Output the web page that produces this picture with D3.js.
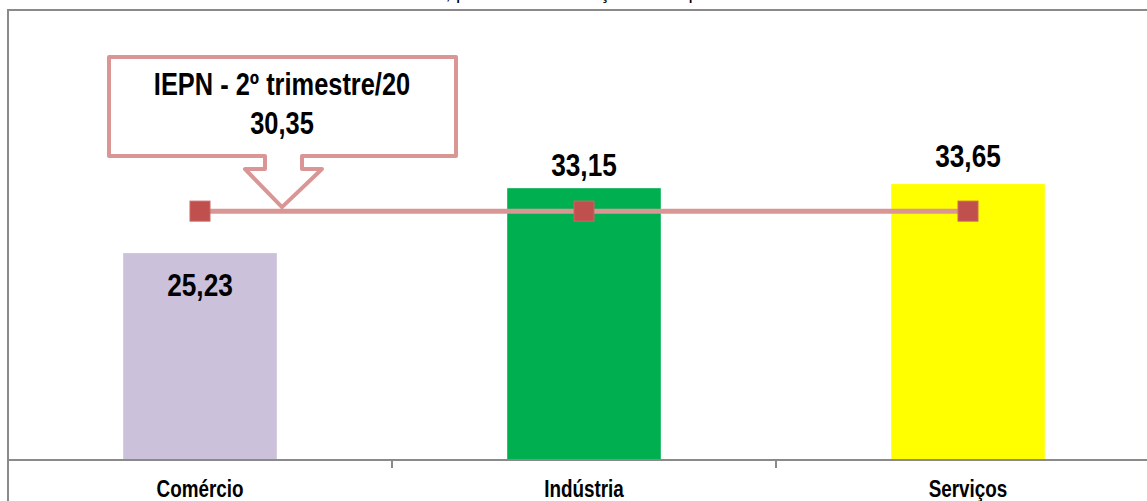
<!DOCTYPE html>
<html>
<head>
<meta charset="utf-8">
<script src="https://cdn.jsdelivr.net/npm/d3@7"></script>
<style>
  html, body { margin: 0; padding: 0; background: #fff; overflow: hidden; width: 1147px; height: 501px; }
  svg { display: block; overflow: hidden; }
  .narrow { font-family: 'Liberation Sans', Arial, sans-serif; font-weight: bold; }
</style>
</head>
<body>
<svg id="chart" width="1147" height="501"></svg>
<script>
// ---- data ----
const categories = ["Comércio", "Indústria", "Serviços"];
const values = [25.23, 33.15, 33.65];
const barColors = ["#CCC1DA", "#00B050", "#FFFF00"];
const valueLabels = ["25,23", "33,15", "33,65"];
const iepnValue = 30.35;
const iepnLabel = "30,35";
const iepnTitle = "IEPN - 2º trimestre/20";
const chartTitle = "Gráfico 3 – IEPN, por setor de atuação da empresa – 2º trimestre/20";

// ---- layout ----
(function () {
const svg = d3.select("#chart");
const pLeft = 8, pRight = 1160, pTop = 10, pBottom = 460;
const frameColor = "#8a8a8a";
const squeeze = 0.82; // emulate a narrow bold face

const x = d3.scaleBand().domain(categories).range([pLeft, pRight]).paddingInner(0.6).paddingOuter(0.3);
const y = d3.scaleLinear().domain([0, 55]).range([pBottom, pTop - 1]);
const bw = x.bandwidth();
const step = x.step();
const cx = c => x(c) + bw / 2;

function narrowText(sel, tx, ty, size, txt) {
  return sel.append("text").attr("class", "narrow")
    .attr("transform", `translate(${tx},${ty}) scale(${squeeze},1)`)
    .attr("text-anchor", "middle").attr("font-size", size).attr("fill", "#000")
    .text(txt);
}

// background
svg.append("rect").attr("x", 0).attr("y", 0).attr("width", 1147).attr("height", 501).attr("fill", "#fff");

// title (mostly cut off at the top, as in the source)
svg.append("text").attr("x", 303).attr("y", -1)
  .attr("font-family", "'Liberation Sans', Arial, sans-serif").attr("font-size", 19)
  .attr("fill", "#000").text(chartTitle);

// frame
svg.append("line").attr("x1", pLeft).attr("x2", 1200).attr("y1", pTop).attr("y2", pTop)
  .attr("stroke", frameColor).attr("stroke-width", 2);
svg.append("line").attr("x1", pLeft).attr("x2", pLeft).attr("y1", pTop - 1).attr("y2", 501)
  .attr("stroke", frameColor).attr("stroke-width", 2);

// bars
svg.selectAll("rect.bar").data(categories).enter().append("rect")
  .attr("class", "bar")
  .attr("x", c => x(c))
  .attr("width", bw)
  .attr("y", (c, i) => y(values[i]))
  .attr("height", (c, i) => y(0) - y(values[i]))
  .attr("fill", (c, i) => barColors[i]);

// x axis
svg.append("line").attr("x1", pLeft).attr("x2", 1200).attr("y1", pBottom).attr("y2", pBottom)
  .attr("stroke", frameColor).attr("stroke-width", 2);
const boundaries = categories.slice(0, -1).map(c => x(c) + bw + (step - bw) / 2);
svg.selectAll("line.tick").data(boundaries).enter().append("line")
  .attr("class", "tick")
  .attr("x1", d => d).attr("x2", d => d)
  .attr("y1", pBottom).attr("y2", pBottom + 8)
  .attr("stroke", frameColor).attr("stroke-width", 2);

categories.forEach(c => narrowText(svg, cx(c), 497, 23, c));

// value labels
const labelDy = [43, -12, -17];
categories.forEach((c, i) => narrowText(svg, cx(c), y(values[i]) + labelDy[i], 32, valueLabels[i]));

// IEPN line
const lineColor = "#D99694";
const yl = y(iepnValue);
svg.append("path")
  .attr("d", d3.line()(categories.map(c => [cx(c), yl])))
  .attr("stroke", lineColor).attr("stroke-width", 5).attr("fill", "none");
svg.selectAll("rect.mk").data(categories).enter().append("rect")
  .attr("class", "mk")
  .attr("x", c => cx(c) - 10).attr("y", yl - 10)
  .attr("width", 20).attr("height", 20)
  .attr("fill", "#C0504D").attr("stroke", "#CC6664").attr("stroke-width", 1);

// callout for the IEPN line
const tipX = 282, tipY = yl - 4;
const bx0 = 109, bx1 = 456, by0 = 57, by1 = 156;
const callout = d3.path();
callout.moveTo(bx0, by0);
callout.lineTo(bx1, by0);
callout.lineTo(bx1, by1);
callout.lineTo(tipX + 20, by1);
callout.lineTo(tipX + 20, 169);
callout.lineTo(tipX + 40, 169);
callout.lineTo(tipX, tipY);
callout.lineTo(tipX - 37, 169);
callout.lineTo(tipX - 17, 169);
callout.lineTo(tipX - 17, by1);
callout.lineTo(bx0, by1);
callout.closePath();
svg.append("path").attr("d", callout.toString())
  .attr("fill", "#fff").attr("stroke", lineColor).attr("stroke-width", 4)
  .attr("stroke-linejoin", "round");
narrowText(svg, tipX, 95, 31, iepnTitle);
narrowText(svg, tipX, 134, 31, iepnLabel);
})();
</script>
</body>
</html>
